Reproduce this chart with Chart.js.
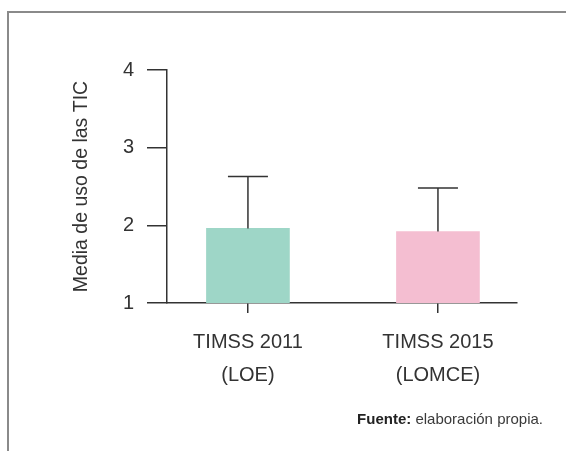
<!DOCTYPE html>
<html lang="es">
<head>
<meta charset="utf-8">
<title>Media de uso de las TIC</title>
<script src="https://cdn.jsdelivr.net/npm/chart.js@4/dist/chart.umd.min.js"></script>
<style>
    body { margin: 0; background: #fff; }
    #marco {
        position: absolute; left: 7px; top: 11px; width: 570px; height: 450px;
        border-left: 2px solid #8a8a8a; border-top: 2px solid #8a8a8a;
    }
    #grafico { position: absolute; left: 0; top: 0; }
    #fuente {
        position: absolute; right: 23px; top: 410px;
        font-family: "Liberation Sans", Arial, sans-serif; font-size: 15px; color: #3a3a3a;
    }
    #fuente b { color: #222; }
</style>
</head>
<body>
<div id="marco"></div>
<canvas id="grafico" width="566" height="451"></canvas>
<div id="fuente"><b>Fuente:</b> elaboración propia.</div>
<script>
// datos
const categorias = [['TIMSS 2011', '(LOE)'], ['TIMSS 2015', '(LOMCE)']];
const posiciones = [0, 1];
const medias = [1.96, 1.92];
const desviaciones = [0.67, 0.56];
const colores = ['#9ed6c7', '#f4bed1'];
const ticksY = [1, 2, 3, 4];

const FUENTE = '"Liberation Sans", Arial, sans-serif';
const GRIS = '#333';

// barras de error (solo hacia arriba)
const barrasError = {
    id: 'barrasError',
    afterDatasetsDraw(chart) {
        const { ctx, scales: { x, y } } = chart;
        ctx.save();
        ctx.strokeStyle = GRIS;
        ctx.lineWidth = 1.5;
        medias.forEach((m, i) => {
            const px = x.getPixelForValue(posiciones[i]);
            const yBase = y.getPixelForValue(m);
            const yTope = y.getPixelForValue(m + desviaciones[i]);
            ctx.beginPath();
            ctx.moveTo(px, yBase);
            ctx.lineTo(px, yTope);
            ctx.moveTo(px - 20, yTope);
            ctx.lineTo(px + 20, yTope);
            ctx.stroke();
        });
        ctx.restore();
    }
};

new Chart(document.getElementById('grafico'), {
    type: 'bar',
    data: {
        datasets: [{
            data: posiciones.map((p, i) => ({ x: p, y: medias[i] })),
            backgroundColor: colores,
            barThickness: 83,
            borderWidth: 0
        }]
    },
    options: {
        responsive: false,
        animation: false,
        layout: { padding: { top: 70, right: 49, bottom: 0, left: 0 } },
        plugins: { legend: { display: false }, tooltip: { enabled: false } },
        scales: {
            x: {
                type: 'linear',
                offset: false,
                min: -0.426,
                max: 1.416,
                afterBuildTicks: (s) => { s.ticks = posiciones.map(v => ({ value: v })); },
                afterFit: (s) => { s.height = 148; },
                grid: { offset: false, drawOnChartArea: false, drawTicks: true, tickLength: 10, color: GRIS, lineWidth: 1.5 },
                border: { display: true, color: GRIS, width: 1.5 },
                ticks: {
                    callback: (v, i) => categorias[i],
                    font: { family: FUENTE, size: 20, lineHeight: 1.65 },
                    color: GRIS,
                    padding: 13,
                    maxRotation: 0
                }
            },
            y: {
                min: 1,
                max: 4,
                afterBuildTicks: (s) => { s.ticks = ticksY.map(v => ({ value: v })); },
                afterFit: (s) => { s.width = 167; },
                grid: { drawOnChartArea: false, drawTicks: true, tickLength: 20, color: GRIS, lineWidth: 1.5 },
                border: { display: true, color: GRIS, width: 1.5 },
                ticks: { font: { family: FUENTE, size: 20 }, color: GRIS, padding: 13 },
                title: {
                    display: true,
                    text: 'Media de uso de las TIC',
                    font: { family: FUENTE, size: 19.5 },
                    color: GRIS,
                    padding: { top: 70, bottom: 0 }
                }
            }
        }
    },
    plugins: [barrasError]
});
</script>
</body>
</html>
